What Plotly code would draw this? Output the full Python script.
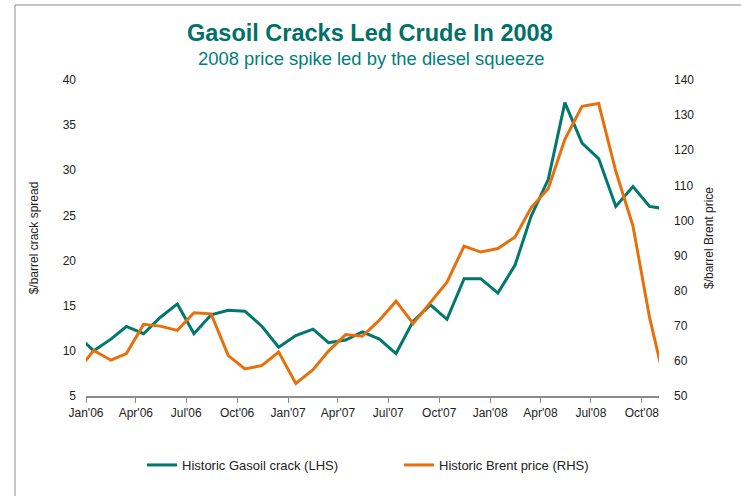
import plotly.graph_objects as go

# Monthly data points (mid-month), Dec 2005 .. Nov 2008
months = ["2005-12", "2006-01", "2006-02", "2006-03", "2006-04", "2006-05", "2006-06",
          "2006-07", "2006-08", "2006-09", "2006-10", "2006-11", "2006-12",
          "2007-01", "2007-02", "2007-03", "2007-04", "2007-05", "2007-06",
          "2007-07", "2007-08", "2007-09", "2007-10", "2007-11", "2007-12",
          "2008-01", "2008-02", "2008-03", "2008-04", "2008-05", "2008-06",
          "2008-07", "2008-08", "2008-09", "2008-10", "2008-11"]

gasoil_crack = [11.8, 10.0, 11.3, 12.7, 11.9, 13.7, 15.2,
                11.9, 14.0, 14.5, 14.4, 12.7, 10.4,
                11.7, 12.4, 10.9, 11.2, 12.1, 11.3,
                9.7, 13.3, 15.1, 13.5, 18.0, 18.0,
                16.4, 19.5, 24.9, 29.0, 37.5, 33.0,
                31.3, 26.0, 28.2, 26.0, 25.7]

brent_price = [56.8, 63.0, 60.2, 62.1, 70.4, 69.9, 68.7,
               73.7, 73.4, 61.5, 57.7, 58.7, 62.5,
               53.6, 57.5, 62.8, 67.5, 67.0, 71.6,
               77.0, 70.6, 76.5, 82.4, 92.7, 91.0,
               92.0, 95.3, 103.6, 109.1, 123.1, 132.5,
               133.3, 114.0, 98.4, 72.3, 51.5]

dates = [m + "-15" for m in months]

TEAL = "#00786E"
ORANGE = "#E8700C"
FONT = "Liberation Sans, Arial, sans-serif"

fig = go.Figure()
fig.add_trace(go.Scatter(x=dates, y=gasoil_crack, mode="lines",
                         name="Historic Gasoil crack (LHS)",
                         line=dict(color=TEAL, width=3), yaxis="y"))
fig.add_trace(go.Scatter(x=dates, y=brent_price, mode="lines",
                         name="Historic Brent price (RHS)",
                         line=dict(color=ORANGE, width=3), yaxis="y2"))

L, R, T, B = 86, 82, 80, 100
W, H = 741, 496
pw = W - L - R
ph = H - T - B

def px2paper_x(px):
    return (px - L) / pw

def px2paper_y(py):
    return (H - B - py) / ph

fig.update_layout(
    width=W, height=H,
    margin=dict(l=L, r=R, t=T, b=B),
    paper_bgcolor="white", plot_bgcolor="white",
    font=dict(family=FONT, size=12, color="#222222"),
    showlegend=True,
    legend=dict(orientation="h", x=px2paper_x(142), xanchor="left",
                y=px2paper_y(465), yanchor="middle",
                font=dict(family=FONT, size=13, color="#222222"),
                entrywidth=212, entrywidthmode="pixels",
                bgcolor="rgba(0,0,0,0)"),
    xaxis=dict(type="date", range=["2006-01-01", "2008-11-01"],
               tick0="2006-01-01", dtick="M3", tickformat="%b'%y",
               showgrid=False, zeroline=False,
               showline=True, linecolor="#8c8c8c", linewidth=1.5,
               ticks="outside", ticklen=5, tickcolor="#8c8c8c", tickwidth=1,
               tickfont=dict(family=FONT, size=12, color="#222222")),
    yaxis=dict(range=[5, 40], dtick=5, showgrid=False, zeroline=False,
               showline=False, ticks="", ticklabelstandoff=9,
               tickfont=dict(family=FONT, size=12, color="#222222"),
               title=dict(text="$/barrel crack spread", standoff=21,
                          font=dict(family=FONT, size=12, color="#222222"))),
    yaxis2=dict(range=[50, 140], dtick=10, overlaying="y", side="right",
                showgrid=False, zeroline=False, showline=False, ticks="",
                ticklabelstandoff=14,
                tickfont=dict(family=FONT, size=12, color="#222222"),
                title=dict(text="$/barrel Brent price", standoff=11,
                           font=dict(family=FONT, size=12, color="#222222"))),
    annotations=[
        dict(text="<b>Gasoil Cracks Led Crude In 2008</b>", xref="paper", yref="paper",
             x=px2paper_x(370), y=px2paper_y(33), xanchor="center", yanchor="middle",
             showarrow=False, font=dict(family="Liberation Sans Narrow, Arial Narrow, " + FONT,
                                        size=23.5, color="#007068")),
        dict(text="2008 price spike led by the diesel squeeze", xref="paper", yref="paper",
             x=px2paper_x(371), y=px2paper_y(58), xanchor="center", yanchor="middle",
             showarrow=False, font=dict(family=FONT, size=18.4, color="#008078")),
    ],
    shapes=[
        dict(type="rect", xref="paper", yref="paper",
             x0=px2paper_x(15), x1=px2paper_x(760),
             y0=px2paper_y(520), y1=px2paper_y(5),
             line=dict(color="#8a8a8a", width=1), fillcolor="rgba(0,0,0,0)", layer="below"),
    ],
)

fig.write_html("out.html", config={"displayModeBar": False},
               post_script="document.body.style.margin='0px';document.body.style.overflow='hidden';")
